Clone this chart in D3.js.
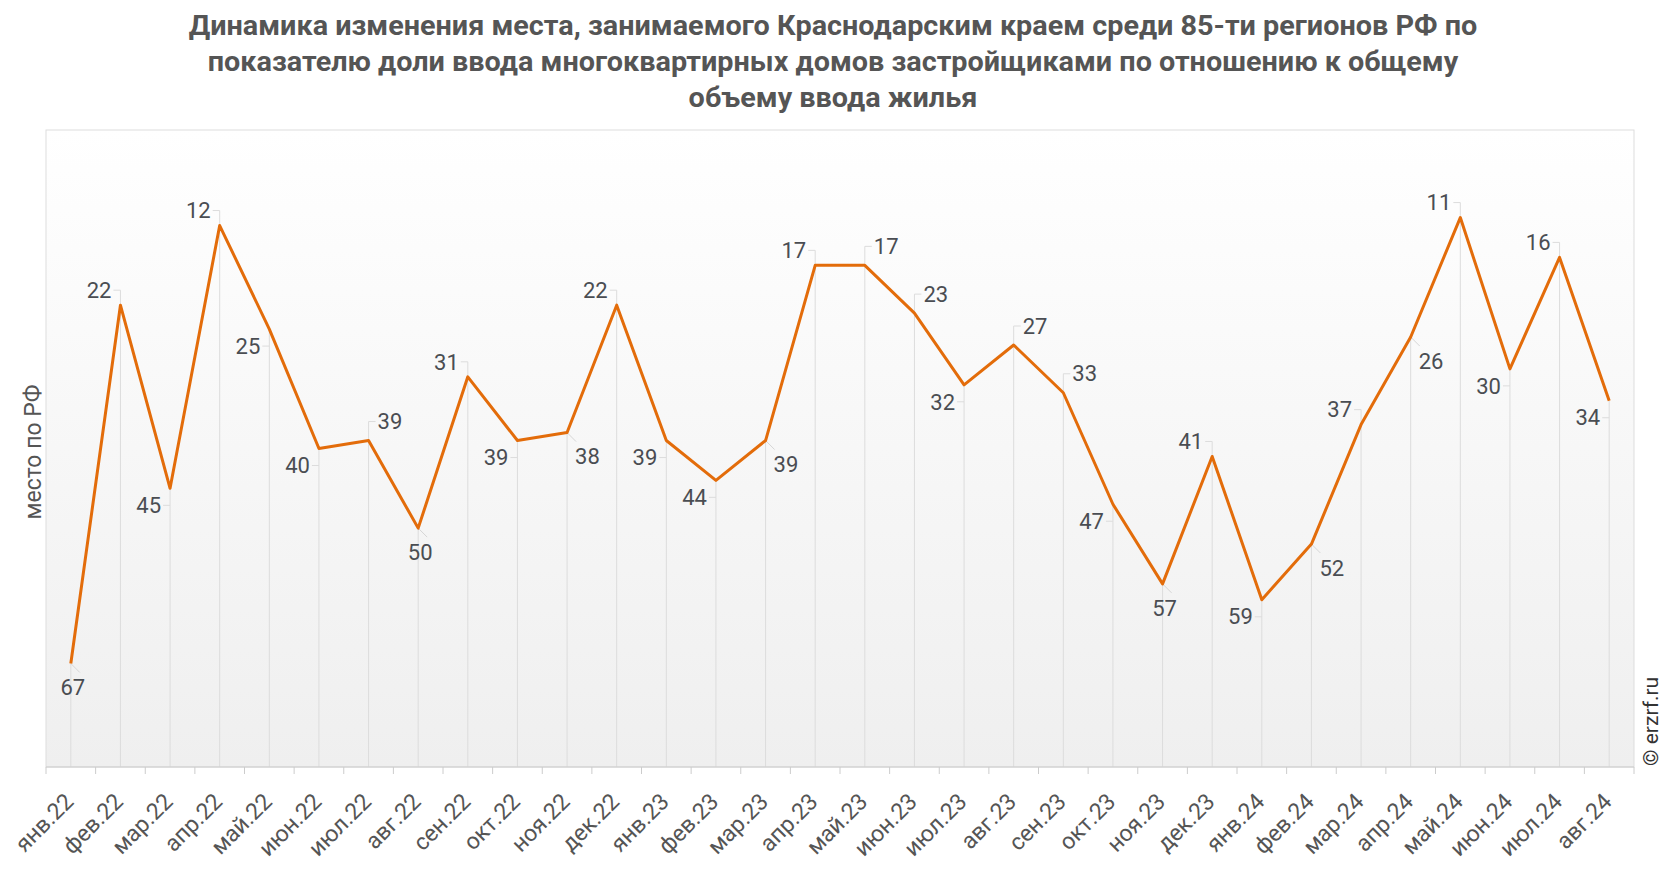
<!DOCTYPE html>
<html>
<head>
<meta charset="utf-8">
<script src="https://cdn.jsdelivr.net/npm/d3@7"></script>
<style>
  html, body { margin: 0; padding: 0; background: #fff; }
  #chart { width: 1666px; height: 872px; }
  text { font-family: Roboto, "Noto Sans", sans-serif; }
</style>
</head>
<body>
<div id="chart"></div>
<script>
// месяцы
const months = ['янв.22', 'фев.22', 'мар.22', 'апр.22', 'май.22', 'июн.22', 'июл.22', 'авг.22',
  'сен.22', 'окт.22', 'ноя.22', 'дек.22', 'янв.23', 'фев.23', 'мар.23', 'апр.23', 'май.23',
  'июн.23', 'июл.23', 'авг.23', 'сен.23', 'окт.23', 'ноя.23', 'дек.23', 'янв.24', 'фев.24',
  'мар.24', 'апр.24', 'май.24', 'июн.24', 'июл.24', 'авг.24'];
// место по РФ
const places = [67, 22, 45, 12, 25, 40, 39, 50, 31, 39, 38, 22, 39, 44, 39, 17, 17,
  23, 32, 27, 33, 47, 57, 41, 59, 52, 37, 26, 11, 30, 16, 34];
const titleLines = [
  'Динамика изменения места, занимаемого Краснодарским краем среди 85-ти регионов РФ по',
  'показателю доли ввода многоквартирных домов застройщиками по отношению к общему',
  'объему ввода жилья'
];
const yTitle = 'место по РФ';
const yMax = 80;

// расположение подписей (ul - слева сверху, ll - слева снизу, ur/lr - справа, b - снизу)
const labelSide = ['b', 'ul', 'll', 'ul', 'll', 'll', 'ur', 'b', 'ul', 'll', 'lr', 'ul', 'll', 'll', 'lr', 'ul', 'ur',
  'ur', 'll', 'ur', 'ur', 'll', 'b', 'ul', 'll', 'lr', 'ul', 'lr', 'ul', 'll', 'ul', 'll'];

const width = 1666, height = 872;
const margin = { top: 130, right: 32, bottom: 105, left: 46 };
const innerWidth = width - margin.left - margin.right;
const innerHeight = height - margin.top - margin.bottom;

const svg = d3.select('#chart').append('svg')
  .attr('width', width).attr('height', height)
  .attr('viewBox', `0 0 ${width} ${height}`);

// фон-градиент
const defs = svg.append('defs');
const grad = defs.append('linearGradient').attr('id', 'bg')
  .attr('x1', 0).attr('y1', 0).attr('x2', 0).attr('y2', 1);
grad.append('stop').attr('offset', '0%').attr('stop-color', '#ffffff');
grad.append('stop').attr('offset', '100%').attr('stop-color', '#efefef');

// заголовок
const title = svg.append('text')
  .attr('text-anchor', 'middle')
  .attr('fill', '#555')
  .attr('font-size', 27)
  .attr('font-weight', 'bold');
titleLines.forEach((t, i) => {
  title.append('tspan').attr('y', 35 + i * 36).text(t);
});
// сжатие по ширине (в оригинале узкий шрифт)
const firstW = title.select('tspan').node().getComputedTextLength();
const sx = 1289 / firstW;
title.selectAll('tspan').attr('x', 833 / sx);
title.attr('transform', `scale(${sx},1)`);

const mg = svg.append('g').attr('transform', `translate(${margin.left},${margin.top})`);

mg.append('rect')
  .attr('width', innerWidth).attr('height', innerHeight)
  .attr('fill', 'url(#bg)')
  .attr('stroke', '#dddddd').attr('stroke-width', 1);

const x = d3.scaleBand().domain(months).range([0, innerWidth]);
const y = d3.scaleLinear().domain([0, yMax]).range([0, innerHeight]);
const cx = d => x(d) + x.bandwidth() / 2;

const data = months.map((m, i) => ({ m, v: places[i], side: labelSide[i] }));

// позиции подписей
const labelPos = d => {
  const px = cx(d.m), py = y(d.v);
  switch (d.side) {
    case 'ul': return { x: px - 9, y: py - 15, anchor: 'end' };
    case 'll': return { x: px - 9, y: py + 17, anchor: 'end' };
    case 'ur': return { x: px + 9, y: py - 19, anchor: 'start' };
    case 'lr': return { x: px + 8, y: py + 24, anchor: 'start' };
    default: return { x: px + 2, y: py + 24, anchor: 'middle' };
  }
};

// вертикальные линии
mg.append('g').selectAll('line').data(data).join('line')
  .attr('x1', d => cx(d.m)).attr('x2', d => cx(d.m))
  .attr('y1', d => Math.min(y(d.v), labelPos(d).y))
  .attr('y2', innerHeight)
  .attr('stroke', '#dcdcdc').attr('stroke-width', 1);

// выноски: горизонтальные
mg.append('g').selectAll('line')
  .data(data.filter(d => ['ul', 'll', 'ur'].includes(d.side))).join('line')
  .attr('x1', d => labelPos(d).x + (labelPos(d).anchor === 'end' ? 2 : -2))
  .attr('x2', d => cx(d.m))
  .attr('y1', d => labelPos(d).y).attr('y2', d => labelPos(d).y)
  .attr('stroke', '#dcdcdc').attr('stroke-width', 1);
// выноски: наклонные
mg.append('g').selectAll('line')
  .data(data.filter(d => ['lr', 'b'].includes(d.side))).join('line')
  .attr('x1', d => cx(d.m)).attr('y1', d => y(d.v))
  .attr('x2', d => cx(d.m) + 9).attr('y2', d => y(d.v) + 9)
  .attr('stroke', '#d6d6d6').attr('stroke-width', 1);

// ось X
const xAxis = mg.append('g').attr('transform', `translate(0,${innerHeight})`);
xAxis.append('line').attr('x1', 0).attr('x2', innerWidth)
  .attr('stroke', '#cccccc');
xAxis.selectAll('line.tick').data(d3.range(months.length + 1)).join('line')
  .attr('class', 'tick')
  .attr('x1', i => i * x.step()).attr('x2', i => i * x.step())
  .attr('y1', 0).attr('y2', 7)
  .attr('stroke', '#cccccc');
xAxis.selectAll('text').data(months).join('text')
  .attr('x', d => cx(d) + 4)
  .attr('y', 36)
  .attr('transform', d => `rotate(-45,${cx(d) + 4},36)`)
  .attr('text-anchor', 'end')
  .attr('fill', '#555')
  .attr('font-size', 23)
  .text(d => d);

// линия
mg.append('path').datum(data)
  .attr('fill', 'none')
  .attr('stroke', '#e36c0a')
  .attr('stroke-width', 3)
  .attr('stroke-linejoin', 'round')
  .attr('d', d3.line().x(d => cx(d.m)).y(d => y(d.v)));

// подписи значений
mg.append('g').selectAll('text').data(data).join('text')
  .attr('x', d => labelPos(d).x)
  .attr('y', d => labelPos(d).y)
  .attr('dy', '0.35em')
  .attr('text-anchor', d => labelPos(d).anchor)
  .attr('fill', '#4a4d52')
  .attr('font-size', 22)
  .text(d => d.v);

// подпись оси Y
svg.append('text')
  .attr('x', 41).attr('y', 452)
  .attr('transform', 'rotate(-90,41,452)')
  .attr('text-anchor', 'middle')
  .attr('fill', '#555')
  .attr('font-size', 23)
  .text(yTitle);

// копирайт
const cy = margin.top + innerHeight - 1;
svg.append('text')
  .attr('x', 1658).attr('y', cy)
  .attr('transform', `rotate(-90,1658,${cy})`)
  .attr('text-anchor', 'start')
  .attr('fill', '#333')
  .attr('font-size', 21)
  .text('© erzrf.ru');
</script>
</body>
</html>
